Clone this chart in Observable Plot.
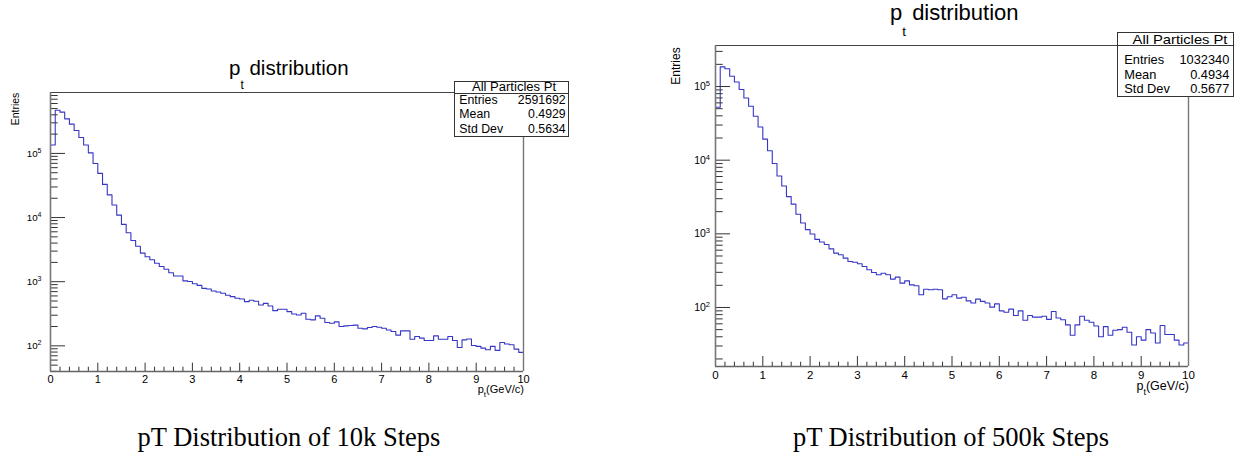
<!DOCTYPE html>
<html><head><meta charset="utf-8">
<script src="https://cdn.jsdelivr.net/npm/d3@7"></script>
<script src="https://cdn.jsdelivr.net/npm/@observablehq/plot@0.6"></script>
<style>
html,body{margin:0;padding:0;background:#fff;}
#page{position:relative;width:1237px;height:456px;overflow:hidden;color:#000;}
.abs{position:absolute;white-space:nowrap;}
.chart{position:absolute;top:0;}
.chart svg{max-width:none !important;}
</style></head><body><div id="page"></div>
<script>
// ---------- data ----------
const BIN_MIN = 0;
const BIN_WIDTH = 0.1;
const xMajorTicks = [0,1,2,3,4,5,6,7,8,9,10];
const xMinorTicks = [0.2,0.4,0.6,0.8,1.2,1.4,1.6,1.8,2.2,2.4,2.6,2.8,3.2,3.4,3.6,3.8,4.2,4.4,4.6,4.8,5.2,5.4,5.6,5.8,6.2,6.4,6.6,6.8,7.2,7.4,7.6,7.8,8.2,8.4,8.6,8.8,9.2,9.4,9.6,9.8];
const yMajorTicks = [1e2,1e3,1e4,1e5];
const yMinorMantissas = [2,3,4,5,6,7,8,9];

// 10k steps: entries per 0.1 GeV/c bin, 0..10 GeV/c
const counts10k = [
 135000,472000,440000,346000,286000,228000,177000,135000,102000,69800,
 48800,32900,22600,15700,10900,7830,5800,4400,3570,2790,
 2450,2200,1935,1730,1560,1380,1230,1230,1030,1005,
 930,875,788,769,716,691,659,614,585,551,
 538,489,513,495,433,460,419,354,371,371,
 342,314,303,322,260,254,293,269,231,225,
 236,200,205,207,210,188,184,193,200,195,
 188,177,167,147,171,171,127,140,132,121,
 121,143,127,127,140,121,94,124,128,101,
 98,92,87,98,85,113,107,104,89,79
];
// 500k steps
const counts500k = [
 52200,185000,174000,138000,115000,91000,70000,54000,39400,28200,
 19300,13400,9010,6110,4460,3200,2530,1840,1400,1140,
 995,842,775,716,625,547,519,468,421,412,
 392,360,325,298,278,292,278,243,258,214,
 230,203,197,149,177,174,177,174,131,140,
 149,134,138,123,115,130,121,115,101,112,
 90,86,95,78,90,67,78,74,74,76,
 69,88,72,68,58,42,58,76,67,63,
 56,40,55,42,49,50,54,46,31,40,
 36,50,45,33,57,43,43,36,31,33
];
const statsLabels = ["Entries","Mean","Std Dev"];
const stats10k = ["2591692","0.4929","0.5634"];
const stats500k = ["1032340","0.4934","0.5677"];
const statsTitle = "All Particles Pt";
const captions = ["pT Distribution of 10k Steps","pT Distribution of 500k Steps"];

// ---------- helpers ----------
const PAGE_W = 1237;
const SANS = "'Liberation Sans', Arial, Helvetica, sans-serif";
const SERIF = "'Liberation Serif', 'Times New Roman', serif";
const BLUE = "#3636c6";
const page = document.getElementById("page");

function makeChart(cfg){
  const steps = cfg.values.map((v,i) => ({x: BIN_MIN + i*BIN_WIDTH, v}));
  steps.push({x: BIN_MIN + cfg.values.length*BIN_WIDTH, v: cfg.values[cfg.values.length-1]});
  const [y0, y1] = cfg.yDomain;
  const yMinor = [];
  for (let e = 0; e <= 6; e++) for (const m of yMinorMantissas) {
    const val = m * Math.pow(10, e);
    if (val > y0 && val < y1) yMinor.push(val);
  }
  const frameW = cfg.width - cfg.mL - cfg.mR;
  const frameH = cfg.height - cfg.mT - cfg.mB;
  const svg = Plot.plot({
    width: cfg.width, height: cfg.height,
    marginLeft: cfg.mL, marginRight: cfg.mR, marginTop: cfg.mT, marginBottom: cfg.mB,
    style: {fontFamily: SANS, background: "transparent", overflow: "visible", color: "#000", maxWidth: "none"},
    x: {domain: [0, 10], label: null},
    y: {type: "log", domain: cfg.yDomain, label: null},
    marks: [
      Plot.line(steps, {x: "x", y: "v", curve: "step-after", stroke: BLUE, strokeWidth: 1.1}),
      Plot.tickX(xMinorTicks, {x: d => d, stroke: "#333", insetTop: frameH - cfg.xMinorLen}),
      Plot.tickX(xMajorTicks, {x: d => d, stroke: "#333", insetTop: frameH - cfg.xMajorLen}),
      Plot.tickY(yMinor, {y: d => d, stroke: "#333", insetRight: frameW - cfg.yMinorLen}),
      Plot.tickY(yMajorTicks, {y: d => d, stroke: "#333", insetRight: frameW - cfg.yMajorLen}),
      Plot.ruleY([y1], {stroke: "#444"}),
      Plot.ruleX([10], {stroke: "#777", strokeWidth: 1.4}),
      Plot.ruleX([0], {stroke: "#777", strokeWidth: 1.6}),
      Plot.ruleY([y0], {stroke: "#666", strokeWidth: 1.4}),
      Plot.axisX({ticks: xMajorTicks, tickSize: 0, tickPadding: cfg.xPad, fontSize: cfg.xFs, tickFormat: d => String(d), label: null}),
      Plot.axisY({ticks: yMajorTicks, tickSize: 0, tickPadding: cfg.yPad, fontSize: cfg.yFs, tickFormat: d => "10^" + Math.round(Math.log10(d)), label: null})
    ]
  });
  // render the decade labels as 10 with a raised exponent
  d3.select(svg).selectAll("text").each(function(){
    const s = this.textContent;
    if (!/^10\^\d+$/.test(s)) return;
    const exp = s.split("^")[1];
    const t = d3.select(this);
    t.text(null);
    t.append("tspan").text("10");
    t.append("tspan").attr("dy", "-0.5em").attr("font-size", cfg.supFs).text(exp);
  });
  const wrap = document.createElement("div");
  wrap.className = "chart";
  wrap.style.left = cfg.left + "px";
  wrap.appendChild(svg);
  page.appendChild(wrap);
}

// place a text so that its baseline sits at `base`
function addText(html, {x, base, fs, anchor = "start", sx = 1, family = SANS, lh = 1}){
  const d = document.createElement("div");
  d.className = "abs";
  d.innerHTML = html;
  const asc = family === SERIF ? 0.891 : 0.905;
  const desc = family === SERIF ? 0.216 : 0.212;
  const off = ((lh - asc - desc) / 2 + asc) * fs;
  let pos, tf, origin;
  if (anchor === "end") {
    pos = `right:${PAGE_W - x}px;`; origin = "100% 0"; tf = `scaleX(${sx})`;
  } else if (anchor === "middle") {
    pos = `left:${x}px;`; origin = "0 0"; tf = `scaleX(${sx}) translateX(-50%)`;
  } else {
    pos = `left:${x}px;`; origin = "0 0"; tf = `scaleX(${sx})`;
  }
  d.style.cssText = `${pos}top:${base - off}px;font-size:${fs}px;line-height:${lh*fs}px;font-family:${family};transform-origin:${origin};transform:${tf};`;
  page.appendChild(d);
}
function addRotated(text, {cx, cy, fs}){
  const d = document.createElement("div");
  d.className = "abs";
  d.textContent = text;
  d.style.cssText = `left:${cx}px;top:${cy}px;font-size:${fs}px;line-height:${fs}px;font-family:${SANS};transform-origin:0 0;transform:rotate(-90deg) translate(-50%,-50%);`;
  page.appendChild(d);
}
function addBox({x0, y0, x1, y1, hy}){
  const b = document.createElement("div");
  b.style.cssText = `position:absolute;left:${x0}px;top:${y0}px;width:${x1-x0}px;height:${y1-y0}px;border:1px solid #333;background:#fff;box-sizing:border-box;`;
  page.appendChild(b);
  const l = document.createElement("div");
  l.style.cssText = `position:absolute;left:${x0}px;top:${hy}px;width:${x1-x0}px;height:1px;background:#333;`;
  page.appendChild(l);
}

// ---------- charts ----------
makeChart({values: counts10k, left: 0, width: 600, height: 400, mL: 50, mR: 77, mT: 92, mB: 29,
  yDomain: [39.8, 891000], xMajorLen: 8.3, xMinorLen: 4.3, yMajorLen: 15, yMinorLen: 7.7,
  xPad: 3.8, xFs: 11, yPad: 9, yFs: 9.8, supFs: 7});
makeChart({values: counts500k, left: 660, width: 577, height: 400, mL: 55, mR: 49, mT: 45, mB: 34,
  yDomain: [15.8, 360600], xMajorLen: 10, xMinorLen: 4.3, yMajorLen: 15, yMinorLen: 7.7,
  xPad: 4.8, xFs: 11.5, yPad: 5.5, yFs: 10.5, supFs: 7.5});

// ---------- annotations: left ----------
addText('p<span style="font-size:12px;position:relative;top:14px">t</span> distribution', {x: 229, base: 75.7, fs: 20.5});
addRotated("Entries", {cx: 15, cy: 109.3, fs: 10.5});
addText('p<span style="font-size:8px;position:relative;top:4px">t</span>(GeV/c)', {x: 524, base: 393.5, fs: 11, anchor: "end", lh: 0.7});
addBox({x0: 454, y0: 81, x1: 569, y1: 137, hy: 93});
addText(statsTitle, {x: 514, base: 91.5, fs: 12.3, anchor: "middle", sx: 1.06});
[104.3, 118.3, 133.3].forEach((b, i) => {
  addText(statsLabels[i], {x: 459.3, base: b, fs: 12.3});
  addText(stats10k[i], {x: 565.7, base: b, fs: 12.3, anchor: "end"});
});

// ---------- annotations: right ----------
addText('p<span style="font-size:13.5px;position:relative;top:16px">t</span> distribution', {x: 890, base: 20.7, fs: 22});
addRotated("Entries", {cx: 676, cy: 65.8, fs: 12});
addText('p<span style="font-size:9px;position:relative;top:5px">t</span>(GeV/c)', {x: 1189, base: 391, fs: 12.5, anchor: "end", lh: 0.7});
addBox({x0: 1117, y0: 32, x1: 1234, y1: 97, hy: 45});
addText(statsTitle, {x: 1179.5, base: 44.5, fs: 12.8, anchor: "middle", sx: 1.15});
[65, 80, 94.3].forEach((b, i) => {
  addText(statsLabels[i], {x: 1124.3, base: b, fs: 12.8});
  addText(stats500k[i], {x: 1229.3, base: b, fs: 12.8, anchor: "end"});
});

// ---------- captions ----------
addText(captions[0], {x: 289, base: 446.5, fs: 26.5, anchor: "middle", family: SERIF});
addText(captions[1], {x: 951, base: 446.5, fs: 26.5, anchor: "middle", family: SERIF});
</script></body></html>
